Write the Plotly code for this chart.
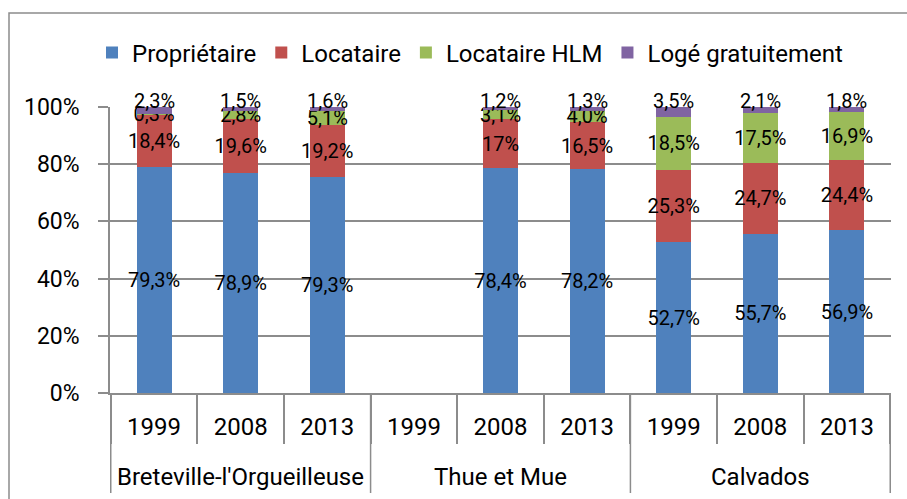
import plotly.graph_objects as go

# Source table (values as published, French decimal comma)
groups = ["Breteville-l'Orgueilleuse", "Thue et Mue", "Calvados"]
years = ["1999", "2008", "2013"]

proprietaire = ["79,3", "78,9", "79,3", None, "78,4", "78,2", "52,7", "55,7", "56,9"]
locataire = ["18,4", "19,6", "19,2", None, "17", "16,5", "25,3", "24,7", "24,4"]
locataire_hlm = ["0,3", "2,8", "5,1", None, "3,1", "4,0", "18,5", "17,5", "16,9"]
loge_gratuit = ["2,3", "1,5", "1,6", None, "1,2", "1,3", "3,5", "2,1", "1,8"]

series = [
    ("Propriétaire", proprietaire, "#4F81BD"),
    ("Locataire", locataire, "#C0504D"),
    ("Locataire HLM", locataire_hlm, "#9BBB59"),
    ("Logé gratuitement", loge_gratuit, "#8064A2"),
]

y_ticks = [0, 20, 40, 60, 80, 100]

# one unique category per (group, year); the axis shows the year only
cats = [f"{g} {y}" for g in groups for y in years]
year_text = [y for g in groups for y in years]

W, H = 907, 499
ML, MR, MT, MB = 110, 16, 107, 106
PW, PH = W - ML - MR, H - MT - MB

FONT = "Roboto, 'Open Sans', sans-serif"
GRID = "#8c8c8c"


def num(s):
    return None if s is None else float(s.replace(",", "."))


def lab(s):
    return "" if s is None else s + "%"


fig = go.Figure()
for name, vals, color in series:
    top = name == "Logé gratuitement"
    fig.add_trace(go.Bar(
        x=cats, y=[num(v) for v in vals], name=name,
        marker=dict(color=color, line=dict(width=0)),
        text=None if top else [lab(v) for v in vals],
        textposition="inside", insidetextanchor="middle",
        textangle=0, constraintext="none",
        textfont=dict(family=FONT, size=20, color="black"),
        cliponaxis=False, hoverinfo="skip",
    ))

# labels of the thin top segment, set just over the 100 % line
for i, v in enumerate(loge_gratuit):
    if v is None:
        continue
    fig.add_annotation(
        x=i, xref="x", y=100, yref="y", yshift=6,
        text=lab(v), showarrow=False,
        font=dict(family=FONT, size=20, color="black"),
    )

# group captions under the year row
for i, g in enumerate(groups):
    fig.add_annotation(
        x=i * len(years) + (len(years) - 1) / 2, xref="x",
        y=-(477 - (H - MB)) / PH, yref="paper", yanchor="middle",
        text=g, showarrow=False,
        font=dict(family=FONT, size=24, color="black"),
    )

# long separators between the groups
for i in range(len(groups) + 1):
    xb = i * len(years) - 0.5
    fig.add_shape(type="line", xref="x", yref="paper",
                  x0=xb, x1=xb, y0=0, y1=-(493 - (H - MB)) / PH,
                  line=dict(color=GRID, width=1.5), layer="above")

# chart frame
fig.add_shape(type="rect", xref="paper", yref="paper",
              x0=(9 - ML) / PW, x1=(W + 20 - ML) / PW,
              y0=-(H + 20 - (H - MB)) / PH, y1=1 + (MT - 13) / PH,
              line=dict(color=GRID, width=1.5), fillcolor="rgba(0,0,0,0)",
              layer="below")

fig.update_layout(
    width=W, height=H,
    margin=dict(l=ML, r=MR, t=MT, b=MB, pad=0),
    paper_bgcolor="white", plot_bgcolor="white",
    barmode="stack", barnorm="percent", bargap=0.595,
    font=dict(family=FONT, size=24, color="black"),
    showlegend=True,
    legend=dict(
        orientation="h", x=(470 - ML) / PW, xanchor="center",
        y=1 + (MT - 53) / PH, yanchor="middle",
        font=dict(family=FONT, size=24, color="black"),
        itemclick=False, traceorder="normal",
    ),
    xaxis=dict(
        type="category", categoryorder="array", categoryarray=cats,
        tickmode="array", tickvals=cats, ticktext=year_text,
        tickson="boundaries", ticks="outside", ticklen=49,
        tickcolor=GRID, tickwidth=1.5,
        ticklabelstandoff=11,
        showline=True, linecolor=GRID, linewidth=1.5,
        showgrid=False, zeroline=False,
        tickfont=dict(family=FONT, size=24, color="black"),
    ),
    yaxis=dict(
        range=[0, 100], tickmode="array",
        tickvals=y_ticks, ticktext=[f"{t}%" for t in y_ticks],
        ticks="outside", ticklen=10, tickcolor=GRID, tickwidth=1.5,
        ticklabelstandoff=14,
        showline=True, linecolor=GRID, linewidth=1.5,
        showgrid=True, gridcolor=GRID, gridwidth=1.5,
        zeroline=False,
        tickfont=dict(family=FONT, size=23, color="black"),
    ),
)

fig.write_html("out.html")
